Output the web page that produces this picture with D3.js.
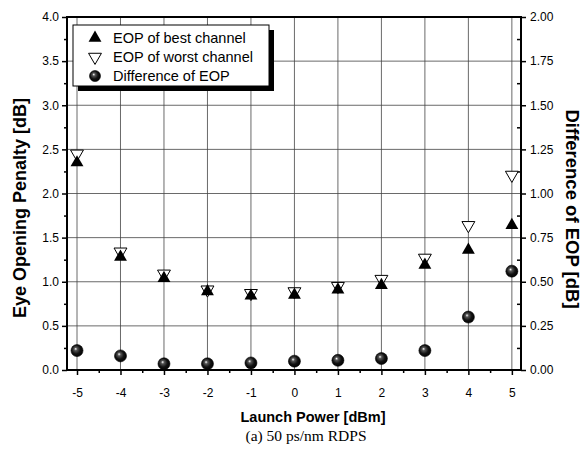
<!DOCTYPE html>
<html>
<head>
<meta charset="utf-8">
<script src="https://cdn.jsdelivr.net/npm/d3@7"></script>
<style>
  html, body { margin: 0; padding: 0; background: #fff; }
  svg { display: block; }
  text { font-family: "Liberation Sans", Arial, sans-serif; }
</style>
</head>
<body>
<svg id="chart" width="584" height="464"></svg>
<script>
// Launch power (dBm)
const launchPower = [-5, -4, -3, -2, -1, 0, 1, 2, 3, 4, 5];
// Eye opening penalty (dB), left axis
const eopBest  = [2.35, 1.28, 1.04, 0.89, 0.84, 0.85, 0.91, 0.96, 1.19, 1.36, 1.64];
const eopWorst = [2.45, 1.34, 1.09, 0.91, 0.87, 0.89, 0.95, 1.03, 1.27, 1.64, 2.21];
// Difference of EOP (dB), right axis
const eopDiff  = [0.11, 0.08, 0.035, 0.035, 0.04, 0.05, 0.055, 0.065, 0.11, 0.30, 0.56];
// Tick values
const leftTicks  = [0, 0.5, 1, 1.5, 2, 2.5, 3, 3.5, 4];
const rightTicks = [0, 0.25, 0.5, 0.75, 1, 1.25, 1.5, 1.75, 2];
const legendItems = ["EOP of best channel", "EOP of worst channel", "Difference of EOP"];

const svg = d3.select("#chart");
const L = 67, R = 521, T = 17, B = 370;

const x  = d3.scaleLinear().domain([-5.23, 5.21]).range([L, R]);
const yL = d3.scaleLinear().domain([0, 4]).range([B, T]);
const yR = d3.scaleLinear().domain([0, 2]).range([B, T]);

// sphere shading for the difference markers
const defs = svg.append("defs");
const grad = defs.append("radialGradient").attr("id", "ball")
  .attr("cx", "45%").attr("cy", "45%").attr("r", "60%")
  .attr("fx", "38%").attr("fy", "35%");
grad.append("stop").attr("offset", "0%").attr("stop-color", "#fff");
grad.append("stop").attr("offset", "22%").attr("stop-color", "#555");
grad.append("stop").attr("offset", "60%").attr("stop-color", "#111");
grad.append("stop").attr("offset", "100%").attr("stop-color", "#000");

// grid
const grid = svg.append("g").attr("stroke", "#444").attr("stroke-width", 0.8);
grid.selectAll("line.v").data(launchPower).join("line")
  .attr("x1", d => x(d)).attr("x2", d => x(d)).attr("y1", T).attr("y2", B);
grid.selectAll("line.h").data(leftTicks.slice(1, -1)).join("line")
  .attr("class", "h")
  .attr("x1", L).attr("x2", R).attr("y1", d => yL(d)).attr("y2", d => yL(d));

// axes
const axisFont = g => g.selectAll("text").attr("font-size", 12).attr("fill", "#000")
  .attr("font-family", "'Liberation Sans', Arial, sans-serif");

const gl = svg.append("g").attr("transform", `translate(${L},0)`)
  .call(d3.axisLeft(yL).tickValues(leftTicks).tickFormat(d3.format(".1f")).tickSize(5).tickPadding(3));
gl.call(axisFont);
gl.select(".domain").remove();
svg.append("g").attr("transform", `translate(${L},0)`)
  .call(d3.axisLeft(yL).tickValues(d3.range(0.25, 4, 0.5)).tickFormat("").tickSize(3))
  .select(".domain").remove();

const gr = svg.append("g").attr("transform", `translate(${R},0)`)
  .call(d3.axisRight(yR).tickValues(rightTicks).tickFormat(d3.format(".2f")).tickSize(5).tickPadding(4));
gr.call(axisFont);
gr.select(".domain").remove();
svg.append("g").attr("transform", `translate(${R},0)`)
  .call(d3.axisLeft(yR).tickValues(d3.range(0.125, 2, 0.25)).tickFormat("").tickSize(4))
  .select(".domain").remove();

const gb = svg.append("g").attr("transform", `translate(0,${B})`)
  .call(d3.axisBottom(x).tickValues(launchPower).tickFormat(d3.format("d")).tickSize(5).tickPadding(13));
gb.call(axisFont);
gb.select(".domain").remove();
svg.append("g").attr("transform", `translate(0,${B})`)
  .call(d3.axisBottom(x).tickValues(d3.range(-4.5, 5, 1)).tickFormat("").tickSize(3))
  .select(".domain").remove();
svg.selectAll(".tick line").attr("stroke", "#000").attr("stroke-width", 1.5);
svg.selectAll(".tick text").text(function() { return this.textContent.replace("\u2212", "-"); });

// frame
svg.append("rect").attr("x", L).attr("y", T).attr("width", R - L).attr("height", B - T)
  .attr("fill", "none").attr("stroke", "#000").attr("stroke-width", 2);

// markers
const tri = d3.symbol().type(d3.symbolTriangle).size(72);
const plot = svg.append("g");
plot.selectAll("path.worst").data(launchPower).join("path")
  .attr("class", "worst")
  .attr("d", tri)
  .attr("transform", (d, i) => `translate(${x(d)},${yL(eopWorst[i])}) rotate(180)`)
  .attr("fill", "#fff").attr("stroke", "#000").attr("stroke-width", 1);
plot.selectAll("path.best").data(launchPower).join("path")
  .attr("class", "best")
  .attr("d", tri)
  .attr("transform", (d, i) => `translate(${x(d)},${yL(eopBest[i])})`)
  .attr("fill", "#000");
plot.selectAll("circle.diff").data(launchPower).join("circle")
  .attr("class", "diff")
  .attr("cx", d => x(d)).attr("cy", (d, i) => yR(eopDiff[i])).attr("r", 6)
  .attr("fill", "url(#ball)").attr("stroke", "#000").attr("stroke-width", 0.6);

// legend
const lg = svg.append("g");
const lx = 73, ly = 25, lw = 196, lh = 61;
lg.append("rect").attr("x", lx + 5).attr("y", ly + 5).attr("width", lw).attr("height", lh).attr("fill", "#000");
lg.append("rect").attr("x", lx).attr("y", ly).attr("width", lw).attr("height", lh)
  .attr("fill", "#fff").attr("stroke", "#000").attr("stroke-width", 1);
const rowY = [38, 57, 76];
legendItems.forEach((name, i) => {
  const cy = rowY[i];
  if (i === 0) {
    lg.append("path").attr("d", tri).attr("transform", `translate(95,${cy})`).attr("fill", "#000");
  } else if (i === 1) {
    lg.append("path").attr("d", tri).attr("transform", `translate(95,${cy}) rotate(180)`)
      .attr("fill", "#fff").attr("stroke", "#000");
  } else {
    lg.append("circle").attr("cx", 95).attr("cy", cy).attr("r", 5.5)
      .attr("fill", "url(#ball)").attr("stroke", "#000").attr("stroke-width", 0.6);
  }
  lg.append("text").attr("x", 113).attr("y", cy).attr("dy", "0.36em")
    .attr("font-size", 14.5).text(name);
});

// axis titles
svg.append("text").attr("transform", `translate(26,208) rotate(-90)`)
  .attr("text-anchor", "middle").attr("font-size", 18).attr("font-weight", "bold")
  .text("Eye Opening Penalty [dB]");
svg.append("text").attr("transform", `translate(566,209) rotate(90)`)
  .attr("text-anchor", "middle").attr("font-size", 18.5).attr("font-weight", "bold")
  .text("Difference of EOP [dB]");
svg.append("text").attr("x", 313).attr("y", 422)
  .attr("text-anchor", "middle").attr("font-size", 14.5).attr("font-weight", "bold")
  .text("Launch Power [dBm]");
svg.append("text").attr("x", 306).attr("y", 441)
  .attr("text-anchor", "middle").attr("font-size", 15.5)
  .style("font-family", "'Liberation Serif', 'Times New Roman', serif")
  .text("(a) 50 ps/nm RDPS");
</script>
</body>
</html>
